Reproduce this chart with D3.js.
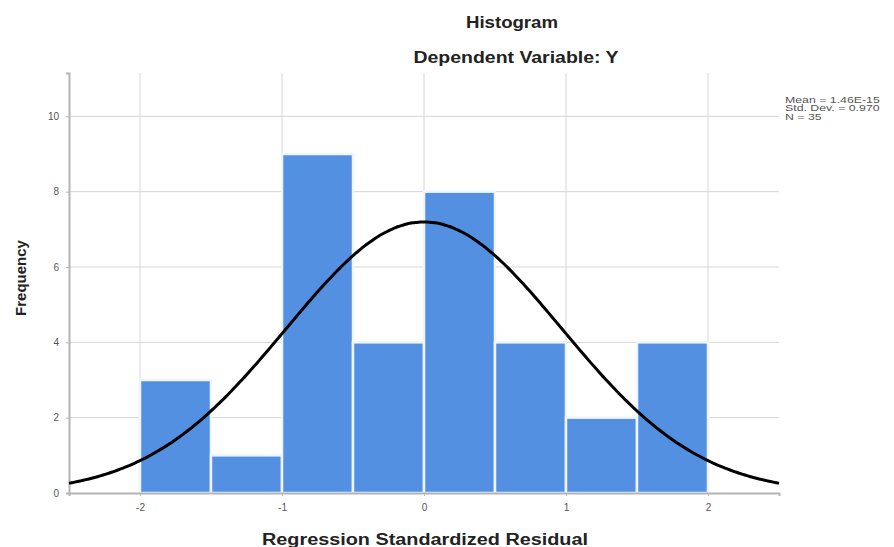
<!DOCTYPE html>
<html>
<head>
<meta charset="utf-8">
<script src="https://cdn.jsdelivr.net/npm/d3@7"></script>
<style>
  body { margin: 0; background: #fff; }
  text { font-family: "Liberation Sans", Arial, sans-serif; }
</style>
</head>
<body>
<div id="chart"></div>
<script>
// bins of the standardized residual (lower edge), width 0.5
const binStarts = [-2, -1.5, -1, -0.5, 0, 0.5, 1, 1.5];
const counts = [3, 1, 9, 4, 8, 4, 2, 4];
const binWidth = 0.5;

// summary shown in the legend; the normal curve is built from these
const statMean = 1.46e-15;
const statSd = 0.970;
const statN = 35;
const legendLines = ["Mean = 1.46E-15", "Std. Dev. = 0.970", "N = 35"];

const xTicks = [-2, -1, 0, 1, 2];
const yTicks = [0, 2, 4, 6, 8, 10];

function initHistogram() {
  const width = 894, height = 547;
  const margin = { top: 73, right: 115, bottom: 54, left: 69 };

  const svg = d3.select("#chart").append("svg")
    .attr("width", width)
    .attr("height", height);

  const x = d3.scaleLinear()
    .domain([-2.5, 2.5])
    .range([margin.left, width - margin.right]);

  const y = d3.scaleLinear()
    .domain([0, 11.15])
    .range([height - margin.bottom, margin.top]);

  // grid
  svg.append("g").selectAll("line")
    .data(yTicks.filter(d => d > 0))
    .join("line")
    .attr("x1", x.range()[0]).attr("x2", x.range()[1])
    .attr("y1", d => y(d)).attr("y2", d => y(d))
    .attr("stroke", "#d6d6d6").attr("stroke-width", 1);

  svg.append("g").selectAll("line")
    .data(xTicks)
    .join("line")
    .attr("x1", d => x(d)).attr("x2", d => x(d))
    .attr("y1", y.range()[1]).attr("y2", y.range()[0])
    .attr("stroke", "#d6d6d6").attr("stroke-width", 1);

  // bars
  const bars = binStarts.map((s, i) => ({ x0: s, x1: s + binWidth, count: counts[i] }));
  svg.append("g").selectAll("rect")
    .data(bars)
    .join("rect")
    .attr("x", d => x(d.x0))
    .attr("y", d => y(d.count))
    .attr("width", d => x(d.x1) - x(d.x0))
    .attr("height", d => y(0) - y(d.count))
    .attr("fill", "#5390e2")
    .attr("stroke", "#eef5ff")
    .attr("stroke-width", 2.5);

  // axes (hyphen minus like the original)
  const fmt = d => String(d);
  const xAxis = svg.append("g")
    .attr("transform", `translate(0,${y(0)})`)
    .call(d3.axisBottom(x).tickValues(xTicks).tickSize(3).tickPadding(8).tickFormat(fmt));
  const yAxis = svg.append("g")
    .attr("transform", `translate(${x.range()[0]},0)`)
    .call(d3.axisLeft(y).tickValues(yTicks).tickSize(3).tickPadding(7).tickFormat(fmt));

  [xAxis, yAxis].forEach(a => {
    a.select(".domain").attr("stroke", "#b4b4b4").attr("stroke-width", 2);
    a.selectAll(".tick line").attr("stroke", "#b4b4b4");
    a.selectAll(".tick text")
      .attr("fill", "#555")
      .style("font-size", "10px")
      .style("font-family", '"Liberation Sans", Arial, sans-serif');
  });

  // normal curve scaled to counts
  const scale = statN * binWidth;
  const pts = d3.range(-2.5, 2.5001, 0.02).map(v => {
    const z = (v - statMean) / statSd;
    return [v, scale * Math.exp(-0.5 * z * z) / (statSd * Math.sqrt(2 * Math.PI))];
  });
  svg.append("path")
    .datum(pts)
    .attr("fill", "none")
    .attr("stroke", "#000")
    .attr("stroke-width", 3)
    .attr("d", d3.line().x(d => x(d[0])).y(d => y(d[1])).curve(d3.curveBasis));

  // titles (the original is a bit stretched sideways, hence textLength)
  function boldText(str, px, xPos, yPos, len) {
    return svg.append("text")
      .attr("x", xPos).attr("y", yPos)
      .attr("text-anchor", "middle")
      .attr("textLength", len)
      .attr("lengthAdjust", "spacingAndGlyphs")
      .style("font-size", px + "px").style("font-weight", "bold")
      .attr("fill", "#222")
      .text(str);
  }
  boldText("Histogram", 16, 512, 28, 92);
  boldText("Dependent Variable: Y", 16, 516, 63, 205);
  boldText("Regression Standardized Residual", 16, 425, 545, 326);

  svg.append("text")
    .attr("transform", "translate(26,278) rotate(-90)")
    .attr("text-anchor", "middle")
    .style("font-size", "15px").style("font-weight", "bold")
    .attr("fill", "#222")
    .text("Frequency");

  // legend stats
  svg.append("g")
    .attr("transform", "translate(785,0) scale(1.45,1)")
    .selectAll("text")
    .data(legendLines)
    .join("text")
    .attr("x", 0)
    .attr("y", (d, i) => 103 + i * 8.5)
    .style("font-size", "8.5px")
    .attr("fill", "#555")
    .text(d => d);
}

document.addEventListener("DOMContentLoaded", initHistogram);
</script>
</body>
</html>
